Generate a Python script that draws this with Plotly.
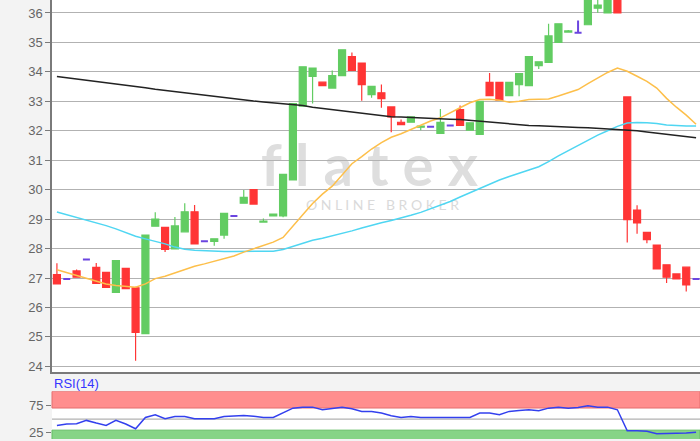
import plotly.graph_objects as go

# daily candles, index 0 = first session in view
opens = [27.12, 26.97, 27.24, 27.63, 27.36, 27.19, 26.51, 27.33, 26.67, 25.11,
         28.76, 28.72, 27.99, 28.57, 29.25, 28.25, 28.24, 28.46, 29.11, 29.54,
         30.00, 28.90, 29.11, 29.11, 30.33, 32.84, 33.85, 33.65, 33.45, 33.87,
         34.52, 34.30, 33.23, 33.29, 32.81, 32.29, 32.29, 32.12, 32.14, 31.91,
         32.18, 32.72, 32.02, 31.88, 33.64, 33.64, 33.19, 33.57, 33.53, 34.21,
         34.32, 35.00, 35.35, 35.33, 35.60, 36.16, 36.00, 36.80, 33.15, 29.31,
         28.55, 28.12, 27.45, 27.14, 27.37, 26.97]
highs = [27.50, 26.97, 27.29, 27.63, 27.51, 27.19, 27.59, 27.33, 26.70, 28.46,
         29.23, 28.72, 29.07, 29.54, 29.48, 28.25, 28.33, 29.20, 29.11, 29.99,
         30.00, 29.02, 29.17, 30.52, 32.92, 34.17, 34.13, 33.65, 34.05, 34.75,
         34.66, 34.30, 33.51, 33.57, 32.81, 32.38, 32.47, 32.16, 32.14, 32.74,
         32.18, 32.86, 32.27, 33.00, 33.96, 33.64, 33.64, 33.94, 34.52, 34.34,
         35.63, 35.63, 35.42, 35.74, 36.90, 36.50, 36.90, 36.90, 33.15, 29.47,
         28.55, 28.12, 27.45, 27.14, 27.37, 26.97]
lows = [26.78, 26.97, 27.03, 27.63, 26.82, 26.68, 26.51, 26.64, 24.19, 25.11,
        28.76, 27.88, 27.99, 28.57, 28.16, 28.25, 28.10, 28.33, 29.11, 29.54,
        29.51, 28.90, 29.11, 29.06, 30.33, 32.84, 32.93, 33.53, 33.45, 33.87,
        34.05, 33.02, 33.12, 32.78, 31.95, 32.21, 32.29, 32.02, 32.14, 31.91,
        32.18, 32.18, 32.02, 31.88, 33.19, 33.04, 33.19, 33.17, 33.53, 34.10,
        34.32, 35.00, 35.33, 35.33, 35.60, 36.01, 36.00, 36.00, 28.21, 28.50,
        28.18, 27.31, 26.83, 26.97, 26.54, 26.97]
closes = [26.80, 26.97, 27.03, 27.63, 26.82, 26.68, 27.59, 26.64, 25.15, 28.46,
          29.00, 27.97, 28.77, 29.25, 28.16, 28.25, 28.33, 29.20, 29.11, 29.74,
          29.51, 28.93, 29.17, 30.52, 32.92, 34.17, 34.13, 33.53, 33.87, 34.75,
          34.05, 33.57, 33.51, 33.09, 32.47, 32.21, 32.47, 32.16, 32.14, 32.29,
          32.18, 32.18, 32.27, 33.00, 33.19, 33.04, 33.64, 33.94, 34.52, 34.34,
          35.22, 35.63, 35.39, 35.33, 36.80, 36.27, 36.80, 36.00, 28.98, 28.87,
          28.30, 27.31, 27.03, 26.97, 26.77, 26.97]

# indicator lines
ma_long = [33.84, 33.80, 33.76, 33.71, 33.67, 33.63, 33.58, 33.54, 33.50, 33.46,
           33.41, 33.37, 33.33, 33.28, 33.24, 33.20, 33.15, 33.11, 33.07, 33.04,
           33.01, 32.98, 32.95, 32.92, 32.89, 32.86, 32.80, 32.76, 32.72, 32.68,
           32.63, 32.59, 32.55, 32.51, 32.48, 32.47, 32.45, 32.44, 32.42, 32.41,
           32.39, 32.38, 32.35, 32.32, 32.29, 32.26, 32.23, 32.20, 32.18, 32.17,
           32.15, 32.14, 32.12, 32.11, 32.10, 32.08, 32.07, 32.05, 32.04, 32.00,
           31.96, 31.92, 31.88, 31.84, 31.80, 31.76]
ma_mid = [29.24, 29.15, 29.06, 28.97, 28.88, 28.78, 28.67, 28.55, 28.42, 28.33,
          28.25, 28.16, 28.05, 27.98, 27.94, 27.92, 27.91, 27.90, 27.90, 27.90,
          27.90, 27.90, 27.91, 27.97, 28.07, 28.19, 28.28, 28.35, 28.43, 28.51,
          28.60, 28.70, 28.80, 28.88, 28.95, 29.03, 29.13, 29.23, 29.35, 29.47,
          29.60, 29.75, 29.90, 30.05, 30.20, 30.33, 30.45, 30.57, 30.67, 30.78,
          30.95, 31.15, 31.33, 31.50, 31.68, 31.85, 32.00, 32.15, 32.26, 32.28,
          32.27, 32.25, 32.20, 32.17, 32.16, 32.16]
ma_short = [27.28, 27.18, 27.10, 27.00, 26.88, 26.80, 26.75, 26.71, 26.69, 26.80,
            26.98, 27.06, 27.18, 27.30, 27.40, 27.48, 27.57, 27.67, 27.75, 27.88,
            28.00, 28.12, 28.22, 28.38, 28.75, 29.15, 29.53, 29.85, 30.12, 30.50,
            30.88, 31.12, 31.38, 31.60, 31.78, 31.90, 32.05, 32.18, 32.33, 32.44,
            32.60, 32.78, 32.95, 33.06, 33.07, 33.04, 32.97, 33.00, 33.06, 33.07,
            33.08, 33.18, 33.28, 33.40, 33.60, 33.80, 33.98, 34.13, 34.02, 33.85,
            33.68, 33.45, 33.10, 32.80, 32.53, 32.22]
rsi = [38.6, 41.0, 41.5, 47.6, 42.8, 38.6, 47.6, 41.0, 32.5, 53.0,
       57.7, 50.5, 54.8, 54.8, 50.5, 50.5, 50.5, 54.8, 55.5, 56.7,
       55.0, 53.0, 53.0, 60.8, 69.8, 71.6, 71.6, 66.8, 69.8, 71.6,
       68.6, 63.9, 63.5, 60.8, 56.0, 53.0, 54.8, 53.0, 53.0, 53.0,
       53.0, 53.0, 53.0, 60.8, 60.8, 57.7, 63.9, 65.7, 66.8, 65.0,
       69.8, 71.6, 69.8, 71.0, 73.9, 71.6, 71.6, 66.8, 28.9, 28.9,
       27.8, 23.5, 23.5, 23.5, 24.8, 26.0]

price_ticks = list(range(24, 37))
rsi_ticks = [25, 75]

GREEN = "#62cc62"
RED = "#ff3535"
DOJI = "#6b45e0"
GRID = "#b2b2b2"
AXIS = "#7a7a7a"
TICK_FONT = dict(family="Liberation Sans, Arial, sans-serif", size=13, color="#666666")

days = list(range(len(opens)))
doji = [i for i in days if opens[i] == closes[i]]
body = [i for i in days if opens[i] != closes[i]]


def pick(values, idx):
    return [values[i] for i in idx]


fig = go.Figure()

fig.add_trace(go.Candlestick(
    x=body, open=pick(opens, body), high=pick(highs, body),
    low=pick(lows, body), close=pick(closes, body),
    increasing=dict(line=dict(color=GREEN, width=1.2), fillcolor=GREEN),
    decreasing=dict(line=dict(color=RED, width=1.2), fillcolor=RED),
    hoverinfo="skip",
))
fig.add_trace(go.Candlestick(
    x=doji, open=pick(opens, doji), high=pick(highs, doji),
    low=pick(lows, doji), close=pick(closes, doji),
    increasing=dict(line=dict(color=DOJI, width=2), fillcolor=DOJI),
    decreasing=dict(line=dict(color=DOJI, width=2), fillcolor=DOJI),
    hoverinfo="skip",
))

for vals, color in ((ma_mid, "#4fd6f2"), (ma_short, "#fdbf4a"), (ma_long, "#222222")):
    fig.add_trace(go.Scatter(x=days, y=vals, mode="lines",
                             line=dict(color=color, width=1.5), hoverinfo="skip"))

fig.add_trace(go.Scatter(x=days, y=rsi, mode="lines", xaxis="x2", yaxis="y2",
                         line=dict(color="#3340ee", width=1.5), hoverinfo="skip"))

shapes = [
    # RSI zones
    dict(type="rect", xref="x2 domain", yref="y2", x0=0, x1=1, y0=70, y1=100,
         fillcolor="#ff8e8e", line=dict(color="#e46f6f", width=1), layer="below"),
    dict(type="rect", xref="x2 domain", yref="y2", x0=0, x1=1, y0=0, y1=30,
         fillcolor="#86d486", line=dict(color="#64bd64", width=1), layer="below"),
    dict(type="line", xref="x2 domain", yref="y2", x0=0, x1=1, y0=50, y1=50,
         line=dict(color=GRID, width=1.2), layer="below"),
    # watermark
    dict(type="rect", xref="paper", yref="paper", x0=0.29, x1=0.69, y0=0.58, y1=0.68,
         line=dict(width=0), fillcolor="rgba(0,0,0,0)", layer="below",
         label=dict(text="f l a t e x", textposition="middle center",
                    font=dict(family="Lato", size=58, color="#dedede", weight="bold"))),
    dict(type="rect", xref="paper", yref="paper", x0=0.30, x1=0.72, y0=0.51, y1=0.56,
         line=dict(width=0), fillcolor="rgba(0,0,0,0)", layer="below",
         label=dict(text="O N L I N E   B R O K E R", textposition="middle center",
                    font=dict(family="Lato", size=14, color="#dadada"))),
]

fig.update_layout(
    width=700, height=441,
    margin=dict(l=52, r=0, t=0, b=0),
    paper_bgcolor="#f3f3f3", plot_bgcolor="#ffffff",
    showlegend=False,
    boxgap=0.25, boxgroupgap=0.05,
    shapes=shapes,
    xaxis=dict(domain=[0, 1], range=[-0.5, 65.4], anchor="y",
               rangeslider=dict(visible=False), showticklabels=False,
               showgrid=False, zeroline=False, ticks="",
               showline=True, linecolor=AXIS, linewidth=1.5),
    yaxis=dict(domain=[0.152, 1], range=[23.8, 36.44], tickvals=price_ticks,
               showgrid=True, gridcolor=GRID, gridwidth=1.2, zeroline=False,
               showline=True, linecolor=AXIS, linewidth=1.5,
               ticks="outside", ticklen=5, tickcolor=AXIS, tickfont=TICK_FONT),
    xaxis2=dict(domain=[0, 1], range=[-0.5, 65.4], anchor="y2",
                showticklabels=False, showgrid=False, zeroline=False, ticks=""),
    yaxis2=dict(domain=[0, 0.109], range=[14, 100.5], tickvals=rsi_ticks,
                showgrid=False, zeroline=False,
                ticks="outside", ticklen=5, tickcolor=AXIS, tickfont=TICK_FONT),
    annotations=[dict(text="RSI(14)", xref="paper", yref="paper", x=0, y=0.127,
                      xanchor="left", yanchor="middle", showarrow=False,
                      font=dict(family="Liberation Sans, Arial, sans-serif",
                                size=13, color="#3535ff"))],
)

# page without body margin so the chart sits at the window's top-left corner
fig.write_html("out.html", config={"displayModeBar": False},
               post_script="document.body.style.margin='0';")
